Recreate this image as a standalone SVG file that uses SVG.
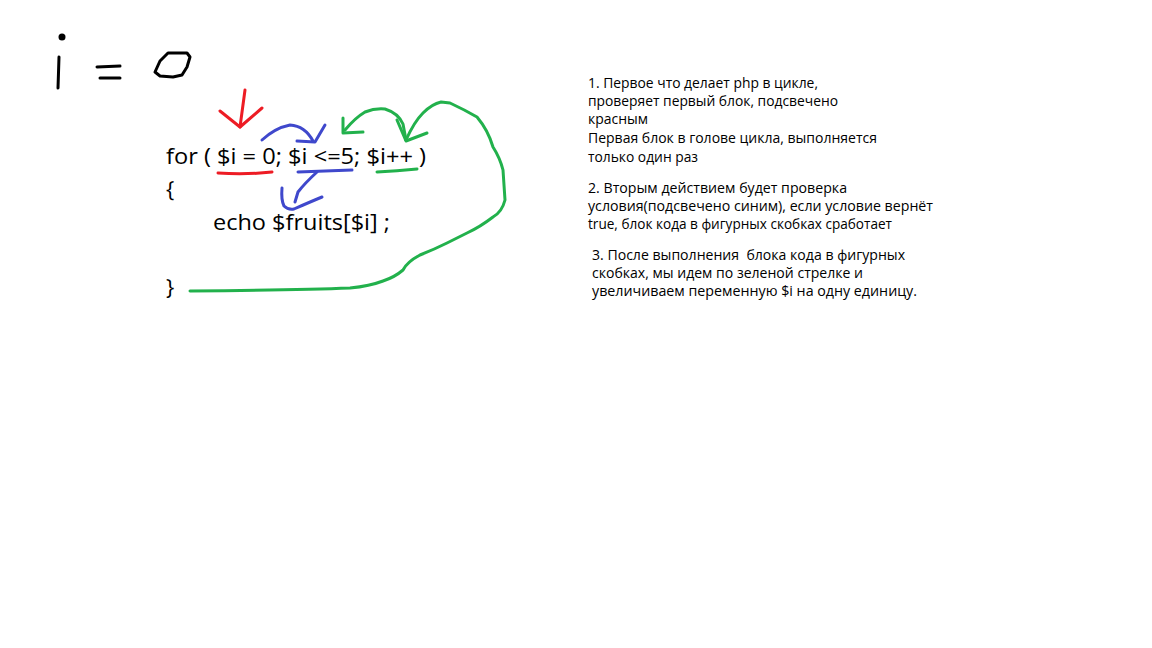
<svg xmlns="http://www.w3.org/2000/svg" width="1152" height="648" viewBox="0 0 1152 648">
<style>
.code{font-family:"Open Sans","Liberation Sans",sans-serif;font-size:22px;fill:#000}
.note{font-family:"Open Sans","Liberation Sans",sans-serif;font-size:14px;fill:#000;white-space:pre}
.hand{fill:none;stroke-width:3;stroke-linecap:round;stroke-linejoin:round}
.k{stroke:#000}
.r{stroke:#ED1C24}
.b{stroke:#3F48CC}
.g{stroke:#22B14C}
</style>
<rect width="1152" height="648" fill="#fff"/>
<g id="handwritten-i-eq-0">
<circle cx="62" cy="37" r="3.5" fill="#000"/>
<path class="hand k" d="M59 57 L58 88"/>
<path class="hand k" d="M97 67 L120 66 M100 78 L120 78"/>
<path class="hand k" d="M155 72 L160 61 L168 53 L187 53 L190 57 L187 67 L182 75 L173 77 L160 76 Z"/>
</g>
<g id="code">
<text class="code" x="166" y="164" textLength="260" lengthAdjust="spacingAndGlyphs">for ( $i = 0; $i &lt;=5; $i++ )</text>
<text class="code" x="166" y="197">{</text>
<text class="code" x="213" y="230" textLength="177" lengthAdjust="spacingAndGlyphs">echo $fruits[$i] ;</text>
<text class="code" x="166" y="295">}</text>
</g>
<g id="connectors">
<g id="red-marks">
<path class="hand r" d="M245 90 L240 127"/>
<path class="hand r" d="M220 111 L240 127 L262 108"/>
<path class="hand r" d="M218 173 Q245 175 272 172"/>
</g>
<g id="blue-marks">
<path class="hand b" d="M262 140 Q275 128 290 125 Q305 126 313 141"/>
<path class="hand b" d="M297 141 L315 142 L325 125"/>
<path class="hand b" d="M298 172 Q325 171 352 170"/>
<path class="hand b" d="M317 172 Q305 183 298 192 L295 202"/>
<path class="hand b" d="M282 188 Q281 200 284 206 Q288 210 294 209 Q310 202 322 197"/>
</g>
<g id="green-marks">
<path class="hand g" d="M343 118 L343 133 L363 132"/>
<path class="hand g" d="M345 130 Q355 118 365 112 Q375 108 385 109 Q398 113 403 124 L406 140"/>
<path class="hand g" d="M397 120 L406 141 L427 133"/>
<path class="hand g" d="M377 172 Q397 171 417 169"/>
<path class="hand g" d="M406 140 Q414 122 423 113 Q432 104 441 102 L450 103 Q465 110 477 117 Q488 130 493 147 Q500 158 503 170 L505 200 Q502 212 493 217 Q480 227 467 233 Q455 239 447 243 Q435 249 420 255 Q407 262 403 270 Q395 277 383 281 Q370 286 350 288 Q300 290 190 291"/>
</g>
</g>
<g id="note-1">
<text class="note" x="588" y="88" textLength="230" lengthAdjust="spacingAndGlyphs">1. Первое что делает php в цикле,</text>
<text class="note" x="588" y="106" textLength="250" lengthAdjust="spacingAndGlyphs">проверяет первый блок, подсвечено</text>
<text class="note" x="588" y="124" textLength="60" lengthAdjust="spacingAndGlyphs">красным</text>
<text class="note" x="588" y="143" textLength="289" lengthAdjust="spacingAndGlyphs">Первая блок в голове цикла, выполняется</text>
<text class="note" x="588" y="162" textLength="110" lengthAdjust="spacingAndGlyphs">только один раз</text>
</g>
<g id="note-2">
<text class="note" x="588" y="193" textLength="259" lengthAdjust="spacingAndGlyphs">2. Вторым действием будет проверка</text>
<text class="note" x="588" y="211" textLength="345" lengthAdjust="spacingAndGlyphs">условия(подсвечено синим), если условие вернёт</text>
<text class="note" x="588" y="229" textLength="304" lengthAdjust="spacingAndGlyphs">true, блок кода в фигурных скобках сработает</text>
</g>
<g id="note-3">
<text class="note" x="592" y="260" textLength="313" lengthAdjust="spacingAndGlyphs">3. После выполнения  блока кода в фигурных</text>
<text class="note" x="592" y="278" textLength="271" lengthAdjust="spacingAndGlyphs">скобках, мы идем по зеленой стрелке и</text>
<text class="note" x="592" y="296" textLength="325" lengthAdjust="spacingAndGlyphs">увеличиваем переменную $i на одну единицу.</text>
</g>
</svg>
